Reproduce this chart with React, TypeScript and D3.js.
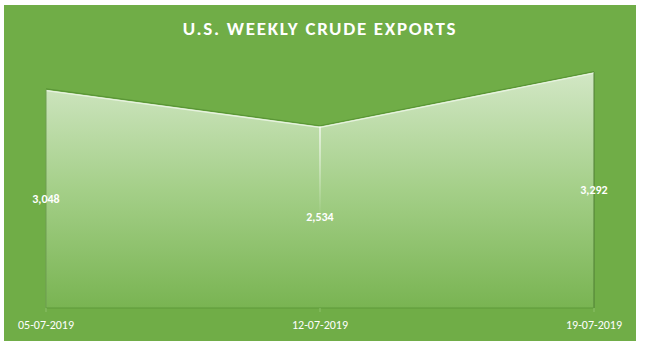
import React from "react";
import * as d3 from "d3";

const categories = ["05-07-2019", "12-07-2019", "19-07-2019"];
const values = [3048, 2534, 3292];
const labels = ["3,048", "2,534", "3,292"];
const title = "U.S. WEEKLY CRUDE EXPORTS";

export default function App() {
  const W = 645, H = 349;
  const bg = { x: 4, y: 5, w: 632, h: 336 };
  const x = d3.scalePoint<string>().domain(categories).range([46, 594]);
  const y = d3.scaleLinear().domain([0, 3500]).range([308, 57.4]);
  const pts = categories.map((c, i) => ({ c, v: values[i], l: labels[i] }));
  const area = d3.area<typeof pts[0]>().x(d => x(d.c)!).y0(y(0)).y1(d => y(d.v));
  const line = d3.line<typeof pts[0]>().x(d => x(d.c)!).y(d => y(d.v));
  const topY = y(d3.max(values)!);
  const font = "Calibri, Carlito, 'Open Sans', sans-serif";
  return (
    <svg width={W} height={H} style={{ position: "absolute", left: 0, top: 0 }}>
      <defs>
        <linearGradient id="ag" gradientUnits="userSpaceOnUse" x1="0" y1={topY} x2="0" y2={y(0)}>
          <stop offset="0" stopColor="#d2e7c5" />
          <stop offset="0.5" stopColor="#a4cf88" />
          <stop offset="1" stopColor="#79b452" />
        </linearGradient>
        <linearGradient id="vl" gradientUnits="userSpaceOnUse" x1="0" y1={y(values[1])} x2="0" y2={(y(values[1]) + y(0)) / 2}>
          <stop offset="0" stopColor="#ffffff" stopOpacity="1" />
          <stop offset="1" stopColor="#ffffff" stopOpacity="0" />
        </linearGradient>
      </defs>
      <rect x={bg.x} y={bg.y} width={bg.w} height={bg.h} fill="#70ad47" />
      <text x={320} y={34.5} textAnchor="middle" fill="#ffffff" fontFamily={font}
        fontWeight="bold" fontSize={19} letterSpacing={1.7}>{title}</text>
      <path d={area(pts)!} fill="url(#ag)" />
      <path d={line(pts)!} fill="none" stroke="#5a9636" strokeWidth={1.2} transform="translate(0,-0.8)" />
      <path d={line(pts)!} fill="none" stroke="#e6f2de" strokeWidth={1.3} transform="translate(0,0.8)" />
      <line x1={x(categories[1])} x2={x(categories[1])} y1={y(values[1])} y2={(y(values[1]) + y(0)) / 2}
        stroke="url(#vl)" strokeWidth={1.2} />
      <line x1={x(categories[0])} x2={x(categories[0])} y1={y(values[0])} y2={y(0)} stroke="#6e9d52" strokeWidth={1} />
      <line x1={x(categories[2])} x2={x(categories[2])} y1={y(values[2])} y2={y(0)} stroke="#4f7f34" strokeWidth={1} />
      <line x1={x(categories[0])} x2={x(categories[2])} y1={y(0)} y2={y(0)} stroke="#5e9a3a" strokeWidth={1} />
      {categories.map(c => (
        <line key={"t" + c} x1={x(c)} x2={x(c)} y1={y(0)} y2={y(0) + 4} stroke="#8cc06a" strokeWidth={1} />
      ))}
      {pts.map(d => (
        <text key={"l" + d.c} x={x(d.c)} y={(y(d.v) + y(0)) / 2 + 4} textAnchor="middle" fill="#ffffff"
          fontFamily={font} fontWeight="bold" fontSize={12}>{d.l}</text>
      ))}
      {categories.map(c => (
        <text key={"x" + c} x={x(c)} y={328.5} textAnchor="middle" fill="#ffffff" fontFamily={font} fontSize={12}>{c}</text>
      ))}
    </svg>
  );
}
